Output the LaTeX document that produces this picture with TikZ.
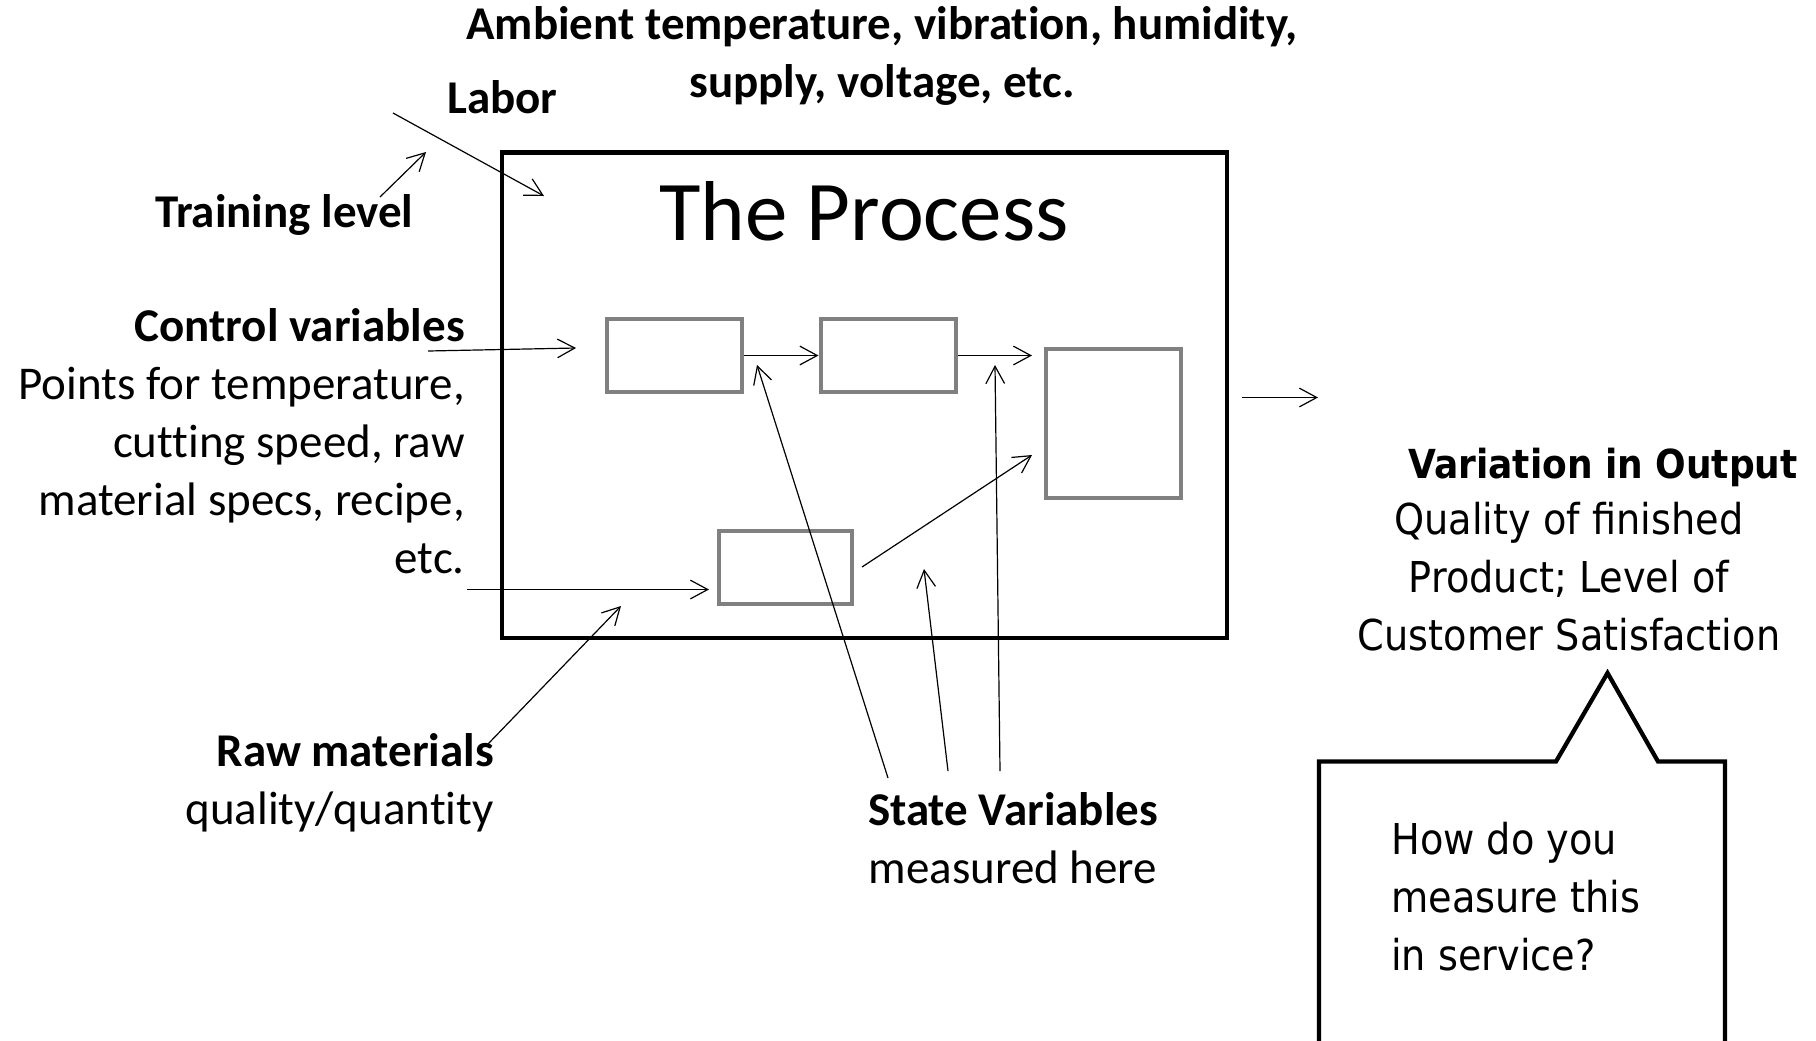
\documentclass[tikz,border=0pt]{standalone}
\usepackage{fontspec}
\setmainfont{Carlito}[Ligatures=CommonOff]
\newfontfamily\sidefont{DejaVu Sans Condensed}
\usetikzlibrary{arrows.meta}

\begin{document}
\begin{tikzpicture}[x=0.75pt,y=-0.75pt,
  lbl/.style={font=\fontsize{35.25}{43.5}\selectfont, inner sep=0pt, align=right},
  lblb/.style={lbl, font=\fontsize{35.25}{43.5}\selectfont\bfseries},
  titlefont/.style={font=\fontsize{63.75}{76}\selectfont, inner sep=0pt},
  rtext/.style={font=\sidefont\fontsize{31.9}{43.2}\selectfont, inner sep=0pt},
  rbold/.style={font=\sidefont\bfseries\fontsize{30}{43.2}\selectfont, inner sep=0pt},
  stage/.style={draw=black!50, line width=3pt, inner sep=0pt, fill=none},
  flow/.style={line width=0.9pt, -{Straight Barb[length=13pt,width=14pt,line width=0.9pt]}},
  frame/.style={line width=3.2pt, line join=miter}
]
\useasboundingbox (0,0) rectangle (1816,1040);

% outer process frame
\draw[frame] (502,152.5) rectangle (1227,638);
\node[titlefont, anchor=base] (title) at (864,240) {The Process};

% process stages
\node[stage, minimum width=101.25pt, minimum height=54.75pt] (A) at (674.5,355.5) {};
\node[stage, minimum width=101.25pt, minimum height=54.75pt] (B) at (888,355.5) {};
\node[stage, minimum width=101.25pt, minimum height=111.75pt] (C) at (1113.5,423.5) {};
\node[stage, minimum width=99.75pt, minimum height=54.75pt] (D) at (785.5,567.5) {};

% free ends of the connectors
\coordinate (bcEnd) at (1032,355.5);
\coordinate (dcStart) at (862,567);
\coordinate (dcEnd) at (1032,455);
\coordinate (ctrlStart) at (428,351);
\coordinate (ctrlEnd) at (576,348);
\coordinate (botStart) at (467,589.5);
\coordinate (botEnd) at (709,589.5);
\coordinate (rawStart) at (488,744);
\coordinate (rawEnd) at (621,606);
\coordinate (labStart) at (393,113);
\coordinate (labEnd) at (544,196);
\coordinate (trStart) at (380,197);
\coordinate (trEnd) at (426,152);
\coordinate (s1Start) at (888,778);
\coordinate (s1End) at (757,365);
\coordinate (s2Start) at (948,771);
\coordinate (s2End) at (924,569);
\coordinate (s3Start) at (1000,771);
\coordinate (s3End) at (995,365);
\coordinate (outStart) at (1242,397.5);
\coordinate (outEnd) at (1318,397.5);

% connectors
\draw[flow] (A.east) -- (B.west);
\draw[flow] (B.east) -- (bcEnd);
\draw[flow] (dcStart) -- (dcEnd);
\draw[flow] (ctrlStart) -- (ctrlEnd);
\draw[flow] (botStart) -- (botEnd);
\draw[flow] (rawStart) -- (rawEnd);
\draw[flow] (labStart) -- (labEnd);
\draw[flow] (trStart) -- (trEnd);
\draw[flow] (s1Start) -- (s1End);
\draw[flow] (s2Start) -- (s2End);
\draw[flow] (s3Start) -- (s3End);
\draw[flow] (outStart) -- (outEnd);

% labels (multi-line nodes are placed by the baseline of their last line)
\node[lblb, anchor=base, align=center] (amb) at (882,97) {Ambient temperature, vibration, humidity,\\supply, voltage, etc.};
\node[lblb, anchor=base west] (labor) at (447,113) {Labor};
\node[lblb, anchor=base west] (train) at (155,227) {Training level};
\node[lblb, anchor=base east] (ctrl) at (465,341) {Control variables};
\node[lbl, anchor=base east] (ctrltxt) at (465,573) {Points for temperature,\\cutting speed, raw\\material specs, recipe,\\etc.};
\node[lblb, anchor=base east] (raw) at (494,766) {Raw materials};
\node[lbl, anchor=base east] (rawtxt) at (494,824) {quality/quantity};
\node[lblb, anchor=base] (state) at (1013,825) {State Variables};
\node[lbl, anchor=base] (statetxt) at (1013,883) {measured here};

\node[rbold, anchor=base east] (var) at (1798,478) {Variation in Output};
\node[rtext, anchor=base, align=center] (vartxt) at (1569,650) {Quality of finished\\Product; Level of\\Customer Satisfaction};

% speech callout pointing at the output description
\begin{scope}
  \clip (0,0) rectangle (1816,1040);
  \draw[frame] (1319,761.5) -- (1556,761.5) -- (1607.5,673) -- (1658,761.5)
    -- (1725,761.5) -- (1725,1070) -- (1319,1070) -- cycle;
\end{scope}
\node[rtext, anchor=base west, align=left] (ask) at (1391,970) {How do you\\measure this\\in service?};
\end{tikzpicture}
\end{document}
